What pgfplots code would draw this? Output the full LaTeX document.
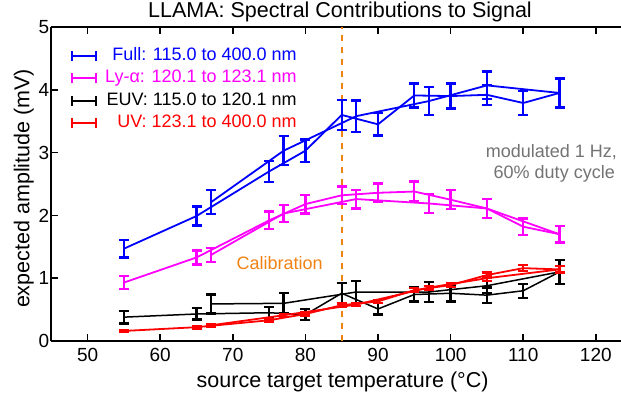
\documentclass[border=0pt]{standalone}
\usepackage{pgfplots}
\pgfplotsset{compat=1.18}
\usepackage{fontspec}
\setmainfont{Liberation Sans}
\definecolor{cblue}{RGB}{0,0,255}
\definecolor{cmag}{RGB}{255,0,255}
\definecolor{cred}{RGB}{255,0,0}
\definecolor{corange}{RGB}{240,130,20}
\definecolor{cgray}{RGB}{115,115,115}
\newcommand\tkf{\fontsize{19}{22}\selectfont}
\newcommand\ff{\fontsize{18}{21}\selectfont}
\newcommand\bigf{\fontsize{21.5}{25}\selectfont}

\pgfplotstableread{
x y e
55 1.47 0.14
65 1.99 0.15
75 2.70 0.17
80 3.03 0.18
85 3.60 0.24
90 3.45 0.18
95 3.91 0.19
100 3.90 0.20
105 3.92 0.16
110 3.79 0.19
115 3.95 0.23
}\fullA
\pgfplotstableread{
x y e
67 2.21 0.19
77 3.03 0.23
87 3.58 0.25
97 3.82 0.22
105 4.07 0.22
115 3.95 0.23
}\fullB
\pgfplotstableread{
x y e
55 0.93 0.10
65 1.33 0.11
75 1.92 0.14
80 2.18 0.15
85 2.32 0.14
90 2.36 0.15
95 2.38 0.16
100 2.25 0.15
105 2.11 0.15
110 1.82 0.13
115 1.70 0.13
}\lyA
\pgfplotstableread{
x y e
67 1.37 0.11
77 2.03 0.14
87 2.26 0.15
97 2.19 0.15
105 2.11 0.15
115 1.70 0.13
}\lyB
\pgfplotstableread{
x y e
55 0.38 0.10
65 0.43 0.09
75 0.45 0.09
80 0.42 0.085
85 0.76 0.16
90 0.51 0.09
95 0.74 0.11
100 0.76 0.13
105 0.73 0.12
110 0.80 0.11
115 1.10 0.19
}\euvA
\pgfplotstableread{
x y e
67 0.59 0.15
77 0.60 0.16
87 0.78 0.17
97 0.78 0.16
105 0.88 0.12
115 1.10 0.19
}\euvB
\pgfplotstableread{
x y e
55 0.16 0.02
65 0.22 0.02
75 0.33 0.02
80 0.43 0.025
85 0.57 0.025
90 0.63 0.025
95 0.81 0.03
100 0.89 0.03
105 1.05 0.04
110 1.16 0.05
115 1.14 0.05
}\uvA
\pgfplotstableread{
x y e
67 0.25 0.02
77 0.41 0.025
87 0.58 0.025
97 0.85 0.03
105 1.00 0.04
115 1.14 0.05
}\uvB

\begin{document}
\begin{tikzpicture}
\path[use as bounding box] (-51.3pt,-55pt) rectangle (569.7pt,341pt);
\begin{axis}[
  scale only axis,
  width=569.7pt, height=314pt,
  xmin=45, xmax=123.47, ymin=0, ymax=5,
  xtick={50,60,...,120}, ytick={0,1,...,5},
  axis x line*=box, axis y line*=left,
  axis line style={line width=1.6pt},
  tick align=inside,
  major tick length=7pt,
  every tick/.style={black, line width=1.6pt},
  tick label style={font=\tkf},
  xticklabel style={yshift=-4pt},
  yticklabel style={xshift=1.5pt},
  /pgf/number format/assume math mode=true,
  clip=false,
  legend image code/.code={
    \draw[#1,line width=2pt] (0pt,0pt) -- (24.5pt,0pt);
    \draw[#1,line width=2pt] (0pt,-5pt) -- (0pt,5pt) (24.5pt,-5pt) -- (24.5pt,5pt);
  },
  legend cell align=right,
  legend style={at={(axis cs:47.67,4.67)}, anchor=north west, draw=none, fill=none,
    inner sep=0pt, outer sep=0pt,
    font=\ff, row sep=5.2pt, column sep=8pt,
    nodes={inner xsep=0pt, inner ysep=0pt, text height=13pt, text depth=4pt}},
  errstyle/.style={error bars/y dir=both, error bars/y explicit,
    error bars/error bar style={line width=2.3pt},
    error bars/error mark options={rotate=90, line width=2.3pt, mark size=5pt}},
]
\addlegendimage{cblue}
\addlegendentry{\textcolor{cblue}{Full: 115.0 to 400.0 nm}}
\addlegendimage{cmag}
\addlegendentry{\textcolor{cmag}{Ly-α: 120.1 to 123.1 nm}}
\addlegendimage{black}
\addlegendentry{\textcolor{black}{EUV: 115.0 to 120.1 nm}}
\addlegendimage{cred}
\addlegendentry{\textcolor{cred}{UV: 123.1 to 400.0 nm}}

\draw[corange, line width=1.6pt, dash pattern=on 6pt off 6pt] (axis cs:85,0) -- (axis cs:85,5);

\addplot[forget plot, cblue, line width=1.8pt, mark=none, errstyle] table[x=x,y=y,y error=e] {\fullA};
\addplot[forget plot, cblue, line width=1.8pt, mark=none, errstyle] table[x=x,y=y,y error=e] {\fullB};
\addplot[forget plot, cmag, line width=1.8pt, mark=none, errstyle] table[x=x,y=y,y error=e] {\lyA};
\addplot[forget plot, cmag, line width=1.8pt, mark=none, errstyle] table[x=x,y=y,y error=e] {\lyB};
\addplot[forget plot, black, line width=1.5pt, mark=none, errstyle] table[x=x,y=y,y error=e] {\euvA};
\addplot[forget plot, black, line width=1.5pt, mark=none, errstyle] table[x=x,y=y,y error=e] {\euvB};
\addplot[forget plot, cred, line width=1.8pt, mark=none, errstyle] table[x=x,y=y,y error=e] {\uvA};
\addplot[forget plot, cred, line width=1.8pt, mark=none, errstyle] table[x=x,y=y,y error=e] {\uvB};

\node[text=corange, font=\ff, anchor=base] at (axis cs:76.46,1.142) {Calibration};
\node[text=cgray, font=\ff, anchor=base east] at (axis cs:123.4,2.920) {modulated 1 Hz,};
\node[text=cgray, font=\ff, anchor=base east] at (axis cs:123.1,2.589) {60\% duty cycle};
\end{axis}
\node[font=\bigf, anchor=base] at (288.7pt,323.7pt) {LLAMA: Spectral Contributions to Signal};
\node[font=\bigf, anchor=base] at (291.3pt,-47pt) {source target temperature (°C)};
\node[font=\bigf, rotate=90, anchor=base] at (-21.8pt,152.5pt) {expected amplitude (mV)};
\end{tikzpicture}
\end{document}
